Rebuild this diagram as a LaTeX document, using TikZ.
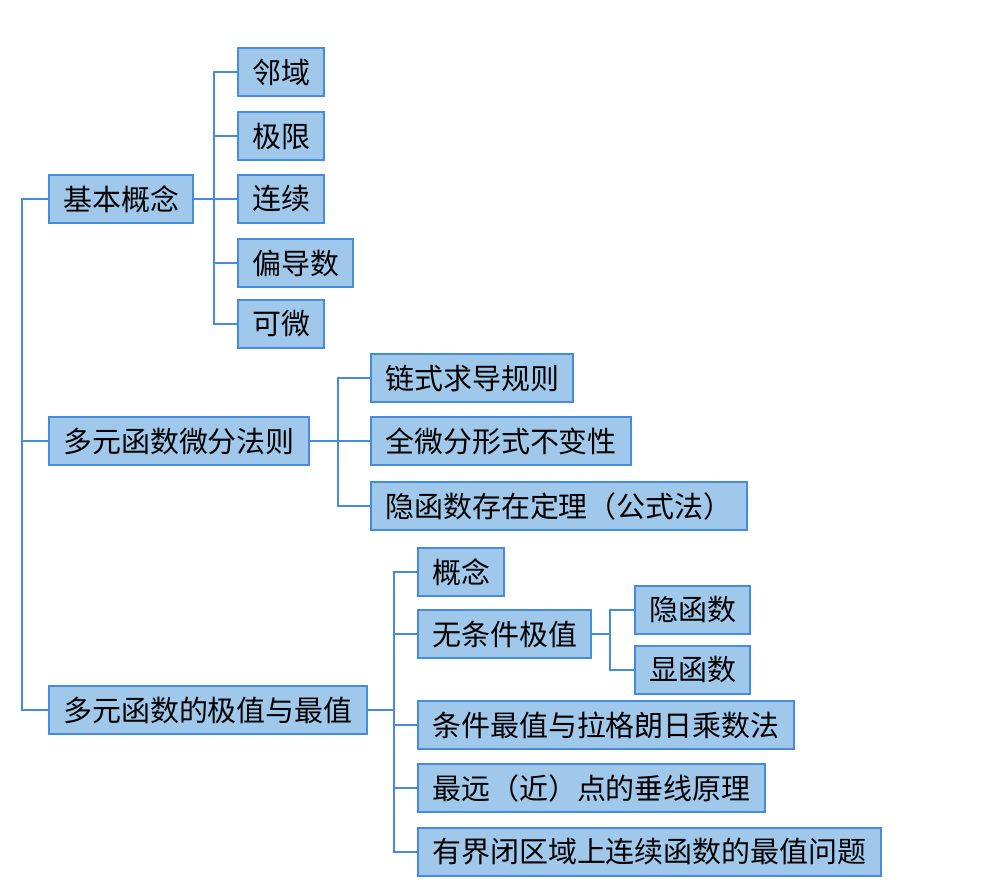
\documentclass[tikz,border=0pt]{standalone}
\usepackage{fontspec}
\setmainfont{Noto Sans CJK SC}
\begin{document}
\begin{tikzpicture}
                                [
                                    x=0.02cm, y=-0.02cm,
                                    box/.style = {draw=boxline, fill=boxfill, line width=1.2pt, anchor=west, minimum height=0.96cm, inner xsep=0.28cm, font=\fontsize{16.5}{18}\selectfont},
                                    link/.style = {draw=boxline, line width=1.1pt},
                                ]
                                \definecolor{boxfill}{RGB}{160,200,235}
                                \definecolor{boxline}{RGB}{70,140,220}
                                \useasboundingbox (0,0) rectangle (988,892);

                                \node[box] (jb) at (48,199)     {基本概念};
                                \node[box] (wf) at (48,441)     {多元函数微分法则};
                                \node[box] (jz) at (48,710)     {多元函数的极值与最值};

                                \node[box] (ly) at (237,72)     {邻域};
                                \node[box] (jx) at (237,136)    {极限};
                                \node[box] (lx) at (237,199)    {连续};
                                \node[box] (pd) at (237,263)    {偏导数};
                                \node[box] (kw) at (237,324)    {可微};

                                \node[box] (ls) at (370,378)    {链式求导规则};
                                \node[box] (qw) at (370,441)    {全微分形式不变性};
                                \node[box] (yh) at (370,506)    {隐函数存在定理（公式法）};

                                \node[box] (gn) at (417,572)    {概念};
                                \node[box] (wt) at (417,634)    {无条件极值};
                                \node[box] (yc) at (634,610)    {隐函数};
                                \node[box] (xh) at (634,670)    {显函数};
                                \node[box] (tj) at (417,725)    {条件最值与拉格朗日乘数法};
                                \node[box] (zy) at (417,788)    {最远（近）点的垂线原理};
                                \node[box] (yj) at (417,852)    {有界闭区域上连续函数的最值问题};

                                \foreach \c in {jb,wf,jz}
                                    \draw[link] (jb.west) -- ++(-26,0) |- (\c.west);
                                \foreach \c in {ly,jx,lx,pd,kw}
                                    \draw[link] (jb.east) -- ++(20,0) |- (\c.west);
                                \foreach \c in {ls,qw,yh}
                                    \draw[link] (wf.east) -- ++(28,0) |- (\c.west);
                                \foreach \c in {gn,wt,tj,zy,yj}
                                    \draw[link] (jz.east) -- ++(26,0) |- (\c.west);
                                \foreach \c in {yc,xh}
                                    \draw[link] (wt.east) -- ++(18,0) |- (\c.west);
                            \end{tikzpicture}
\end{document}
